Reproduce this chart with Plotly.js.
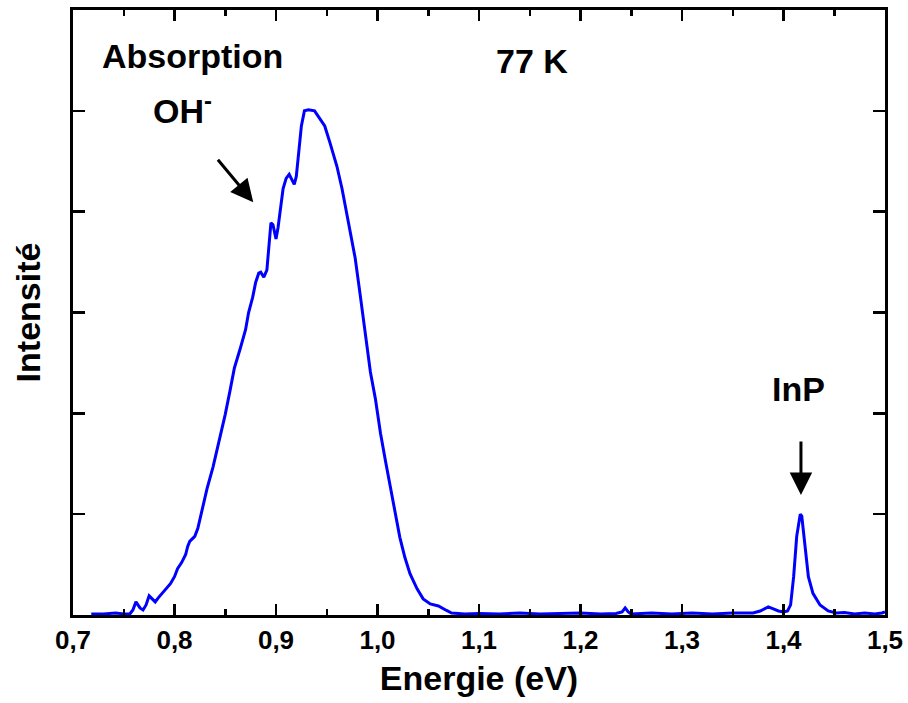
<!DOCTYPE html>
<html>
<head>
<meta charset="utf-8">
<script src="https://cdn.plot.ly/plotly-3.0.1.min.js"></script>
<style>html,body{margin:0;padding:0;background:#fff;}#chart{width:908px;height:703px;}</style>
</head>
<body>
<div id="chart"></div>
<script>
// Energy (eV)
const energy = [
  0.718, 0.730, 0.742, 0.750, 0.756, 0.759, 0.762, 0.766, 0.769, 0.772,
  0.775, 0.778, 0.781, 0.784, 0.788, 0.792, 0.796, 0.800, 0.803, 0.807,
  0.811, 0.813, 0.815, 0.818, 0.820, 0.823, 0.827, 0.832, 0.838, 0.845,
  0.850, 0.855, 0.859, 0.865, 0.870, 0.873, 0.877, 0.880, 0.883, 0.885,
  0.888, 0.891, 0.893, 0.895, 0.897, 0.899, 0.900, 0.902, 0.905, 0.907,
  0.910, 0.913, 0.915, 0.918, 0.920, 0.922, 0.925, 0.928, 0.932, 0.938,
  0.943, 0.948, 0.953, 0.960, 0.965, 0.971, 0.978, 0.983, 0.988, 0.993,
  0.998, 1.003, 1.008, 1.013, 1.018, 1.022, 1.027, 1.032, 1.039, 1.045,
  1.052, 1.060, 1.068, 1.073, 1.086, 1.100, 1.120, 1.140, 1.160, 1.180,
  1.200, 1.220, 1.235, 1.241, 1.244, 1.247, 1.250, 1.270, 1.290, 1.310,
  1.330, 1.350, 1.370, 1.377, 1.385, 1.390, 1.395, 1.400, 1.404, 1.407,
  1.410, 1.413, 1.4165, 1.418, 1.421, 1.4245, 1.429, 1.436, 1.444, 1.452,
  1.460, 1.470, 1.480, 1.490, 1.497, 1.500
];
// Intensity (arbitrary units)
const intensity = [
  0.01, 0.01, 0.02, 0.01, 0.01, 0.05, 0.13, 0.07, 0.05, 0.10,
  0.19, 0.16, 0.13, 0.17, 0.22, 0.26, 0.31, 0.38, 0.46, 0.52,
  0.60, 0.68, 0.73, 0.76, 0.78, 0.86, 1.04, 1.25, 1.47, 1.76,
  1.99, 2.24, 2.45, 2.65, 2.83, 3.00, 3.15, 3.30, 3.39, 3.40,
  3.35, 3.42, 3.65, 3.89, 3.87, 3.75, 3.73, 3.84, 4.09, 4.23,
  4.33, 4.37, 4.33, 4.27, 4.35, 4.55, 4.85, 5.00, 5.01, 5.00,
  4.93, 4.85, 4.69, 4.45, 4.23, 3.92, 3.54, 3.17, 2.76, 2.41,
  2.14, 1.80, 1.52, 1.25, 1.01, 0.77, 0.57, 0.41, 0.26, 0.16,
  0.11, 0.09, 0.045, 0.02, 0.01, 0.015, 0.01, 0.02, 0.01, 0.015,
  0.02, 0.01, 0.015, 0.03, 0.07, 0.03, 0.01, 0.02, 0.01, 0.02,
  0.01, 0.02, 0.02, 0.04, 0.08, 0.06, 0.04, 0.03, 0.04, 0.10,
  0.38, 0.78, 1.00, 0.98, 0.68, 0.38, 0.215, 0.10, 0.04, 0.02,
  0.025, 0.01, 0.02, 0.01, 0.02, 0.03
];
const xTickVals = [0.7, 0.8, 0.9, 1.0, 1.1, 1.2, 1.3, 1.4, 1.5];
const xTickText = ["0,7", "0,8", "0,9", "1,0", "1,1", "1,2", "1,3", "1,4", "1,5"];

const FONT = "Liberation Sans, Arial, sans-serif";

const trace = {
  x: energy, y: intensity, type: "scatter", mode: "lines",
  line: {color: "#0000ff", width: 3, shape: "linear"},
  hoverinfo: "skip", showlegend: false
};

const layout = {
  width: 908, height: 703,
  margin: {l: 73, r: 23, t: 10, b: 88},
  paper_bgcolor: "#fff", plot_bgcolor: "#fff",
  showlegend: false,
  font: {family: FONT, color: "#000"},
  xaxis: {
    range: [0.7, 1.5], tickmode: "array", tickvals: xTickVals, ticktext: xTickText,
    ticks: "inside", ticklen: 11, tickwidth: 2.5, tickcolor: "#000",
    minor: {dtick: 0.05, tick0: 0.7, ticks: "inside", ticklen: 6, tickwidth: 2.5, tickcolor: "#000", showgrid: false},
    showline: true, linewidth: 3, linecolor: "#000", mirror: "allticks",
    showgrid: false, zeroline: false,
    tickfont: {family: FONT, size: 26, weight: "bold", color: "#000"},
    title: {text: "Energie (eV)", font: {family: FONT, size: 34, weight: "bold", color: "#000"}, standoff: 12}
  },
  yaxis: {
    range: [0, 6], dtick: 1, tick0: 0,
    ticks: "inside", ticklen: 12, tickwidth: 2.5, tickcolor: "#000",
    showticklabels: false,
    showline: true, linewidth: 3, linecolor: "#000", mirror: "allticks",
    showgrid: false, zeroline: false,
    title: {text: "Intensité", font: {family: FONT, size: 34, weight: "bold", color: "#000"}, standoff: 20}
  },
  annotations: [
    {xref: "paper", yref: "paper", x: 0.1466, y: 0.924, text: "Absorption", showarrow: false,
     font: {family: FONT, size: 34, weight: "bold", color: "#000"}, xanchor: "center", yanchor: "middle"},
    {xref: "paper", yref: "paper", x: 0.135, y: 0.838, text: "OH<sup>-</sup>", showarrow: false,
     font: {family: FONT, size: 34, weight: "bold", color: "#000"}, xanchor: "center", yanchor: "middle"},
    {xref: "paper", yref: "paper", x: 0.565, y: 0.916, text: "77 K", showarrow: false,
     font: {family: FONT, size: 34, weight: "bold", color: "#000"}, xanchor: "center", yanchor: "middle"},
    {xref: "paper", yref: "paper", x: 0.894, y: 0.3736, text: "InP", showarrow: false,
     font: {family: FONT, size: 34, weight: "bold", color: "#000"}, xanchor: "center", yanchor: "middle"},
    {xref: "x", yref: "y", x: 0.8776, y: 4.094, ax: -36.6, ay: -44, text: "", showarrow: true,
     arrowhead: 2, arrowsize: 1.5, arrowwidth: 3, arrowcolor: "#000"},
    {xref: "x", yref: "y", x: 1.4172, y: 1.19, ax: 0, ay: -55, text: "", showarrow: true,
     arrowhead: 2, arrowsize: 1.5, arrowwidth: 3, arrowcolor: "#000"}
  ]
};

Plotly.newPlot("chart", [trace], layout, {staticPlot: true, displayModeBar: false});
</script>
</body>
</html>
